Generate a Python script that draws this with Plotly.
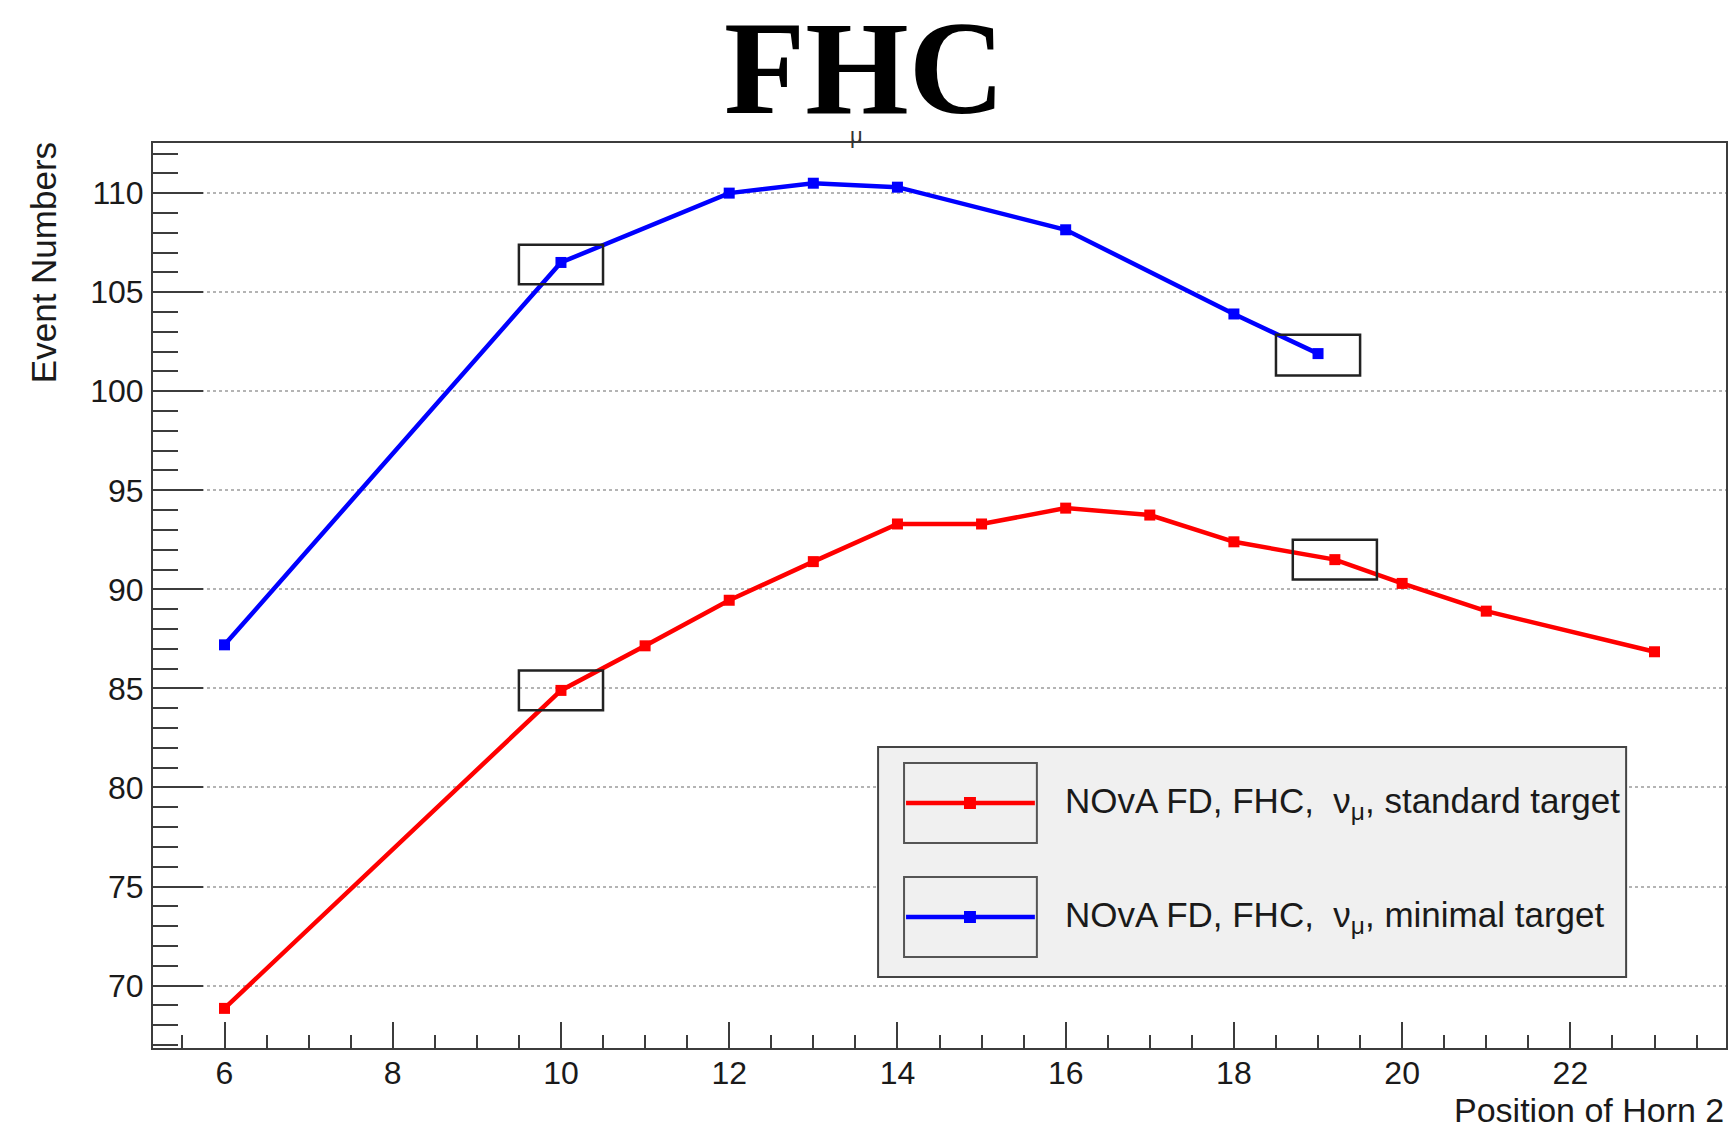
import plotly.graph_objects as go

# ---------------- data ----------------
std_x = [6, 10, 11, 12, 13, 14, 15, 16, 17, 18, 19.2, 20, 21, 23]
std_y = [68.85, 84.9, 87.15, 89.45, 91.4, 93.3, 93.3, 94.1, 93.75, 92.4, 91.5, 90.3, 88.9, 86.85]
min_x = [6, 10, 12, 13, 14, 16, 18, 19]
min_y = [87.2, 106.5, 110.0, 110.5, 110.3, 108.15, 103.9, 101.9]

std_name = "NOvA FD, FHC, \u00a0\u03bd<sub>\u03bc</sub>, standard target"
min_name = "NOvA FD, FHC, \u00a0\u03bd<sub>\u03bc</sub>, minimal target"

# highlighted boxes (data coordinates)
box_x0 = [9.5, 18.5, 9.5, 18.7]
box_x1 = [10.5, 19.5, 10.5, 19.7]
box_y0 = [105.4, 100.8, 83.9, 90.5]
box_y1 = [107.4, 102.85, 85.9, 92.5]

title_text = "FHC"
x_title = "Position of Horn 2"
y_title = "Event Numbers"

# ---------------- layout geometry ----------------
W, H = 1731, 1130
L, R, T, B = 153, 1728, 143, 1048
FONT = "Liberation Sans, Arial, Helvetica, sans-serif"
AXC = "#3c3c3c"


def px(xp):
    return (xp - L) / (R - L)


def py(yp):
    return (B - yp) / (B - T)


fig = go.Figure()
fig.add_trace(go.Scatter(x=std_x, y=std_y, mode="lines+markers", name=std_name,
                         line=dict(color="#ff0000", width=4.5),
                         marker=dict(symbol="square", size=11, color="#ff0000"),
                         showlegend=False))
fig.add_trace(go.Scatter(x=min_x, y=min_y, mode="lines+markers", name=min_name,
                         line=dict(color="#0000ff", width=4.5),
                         marker=dict(symbol="square", size=11, color="#0000ff"),
                         showlegend=False))

shapes = []
for a, b, c, d in zip(box_x0, box_x1, box_y0, box_y1):
    shapes.append(dict(type="rect", xref="x", yref="y", x0=a, x1=b, y0=c, y1=d,
                       line=dict(color="#222222", width=2.5), layer="above"))

# legend (drawn manually, ROOT TLegend style)
shapes.append(dict(type="rect", xref="paper", yref="paper",
                   x0=px(879), x1=px(1628), y0=py(977), y1=py(747),
                   fillcolor="#f0f0f0", line=dict(color="#444444", width=2), layer="above"))
annotations = []
for (yc, col, name) in [(803, "#ff0000", std_name), (917, "#0000ff", min_name)]:
    shapes.append(dict(type="rect", xref="paper", yref="paper",
                       x0=px(905), x1=px(1038), y0=py(yc + 40), y1=py(yc - 40),
                       line=dict(color="#555555", width=2), layer="above"))
    shapes.append(dict(type="line", xref="paper", yref="paper",
                       x0=px(907), x1=px(1036), y0=py(yc), y1=py(yc),
                       line=dict(color=col, width=4.5), layer="above"))
    shapes.append(dict(type="rect", xref="paper", yref="paper",
                       x0=px(965), x1=px(977), y0=py(yc + 6), y1=py(yc - 6),
                       fillcolor=col, line=dict(width=0), layer="above"))
    annotations.append(dict(text=name, xref="paper", yref="paper",
                            x=px(1064), y=py(yc), xanchor="left", yanchor="middle",
                            showarrow=False, font=dict(family=FONT, size=35, color="#1a1a1a")))

annotations.append(dict(text="<b>" + title_text + "</b>", xref="paper", yref="paper",
                        x=px(865), y=py(68), xanchor="center", yanchor="middle",
                        showarrow=False,
                        font=dict(family="Liberation Serif, Times New Roman, serif", size=133, color="#000000")))
annotations.append(dict(text="\u03bc", xref="paper", yref="paper",
                        x=px(857), y=py(150), xanchor="center", yanchor="bottom",
                        showarrow=False, font=dict(family=FONT, size=22, color="#333333")))
annotations.append(dict(text=x_title, xref="paper", yref="paper",
                        x=px(1728), y=py(1110), xanchor="right", yanchor="middle",
                        showarrow=False, font=dict(family=FONT, size=34, color="#1a1a1a")))
annotations.append(dict(text=y_title, xref="paper", yref="paper",
                        x=px(43), y=py(263), xanchor="center", yanchor="middle",
                        textangle=-90, showarrow=False,
                        font=dict(family=FONT, size=35, color="#1a1a1a")))

fig.update_layout(
    width=W, height=H,
    margin=dict(l=L, r=W - R, t=T, b=H - B, pad=0),
    paper_bgcolor="white", plot_bgcolor="white",
    shapes=shapes, annotations=annotations,
    showlegend=False,
)
fig.update_xaxes(range=[5.15, 23.85], dtick=2, tick0=0,
                 ticks="inside", ticklen=26, tickwidth=2, tickcolor=AXC,
                 minor=dict(dtick=0.5, ticks="inside", ticklen=13, tickwidth=1.5, tickcolor=AXC),
                 showgrid=False, zeroline=False,
                 showline=True, linecolor=AXC, linewidth=2, mirror=True,
                 tickfont=dict(family=FONT, size=32, color="#1a1a1a"),
                 ticklabelstandoff=-4)
fig.update_yaxes(range=[66.85, 112.53], dtick=5, tick0=0,
                 ticks="inside", ticklen=50, tickwidth=2, tickcolor=AXC,
                 minor=dict(dtick=1, ticks="inside", ticklen=25, tickwidth=2, tickcolor=AXC),
                 showgrid=True, gridcolor="#b4b4b4", griddash="dot", gridwidth=1.5,
                 zeroline=False,
                 showline=True, linecolor=AXC, linewidth=2, mirror=True,
                 tickfont=dict(family=FONT, size=32, color="#1a1a1a"),
                 ticklabelstandoff=1)

fig.write_html("out.html")
